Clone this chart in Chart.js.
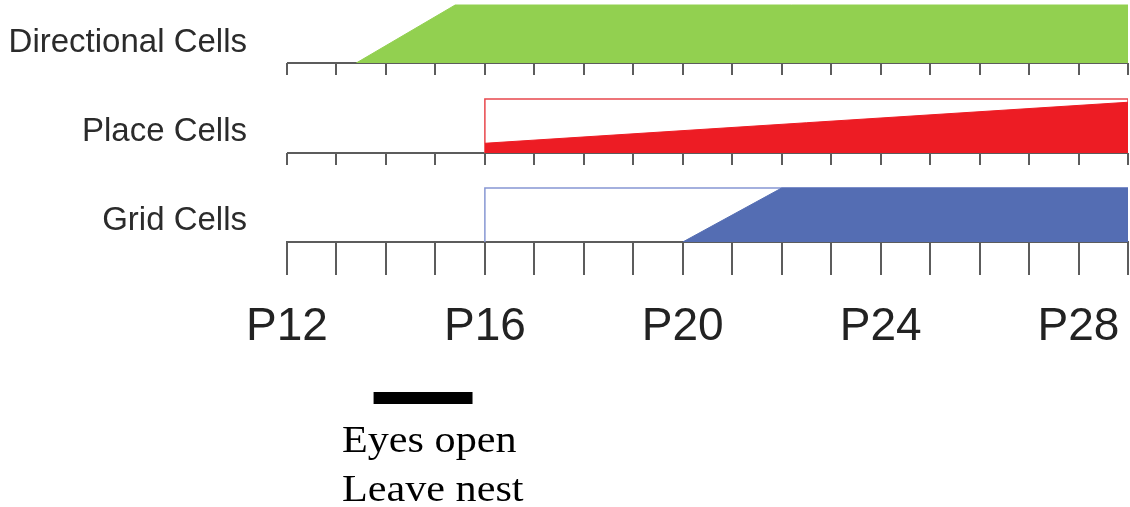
<!DOCTYPE html>
<html><head><meta charset="utf-8">
<script src="https://cdn.jsdelivr.net/npm/chart.js@4.4.1/dist/chart.umd.min.js"></script>
<style>html,body{margin:0;padding:0;background:#fff;} canvas{display:block;}</style>
</head><body>
<canvas id="c" width="1130" height="507"></canvas>
<script>
// ---- data ----
const dayMin = 12, dayMax = 29;
const tickDays = [12, 16, 20, 24, 28];
const tickLabels = ['P12', 'P16', 'P20', 'P24', 'P28'];
const rowNames = ['Directional Cells', 'Place Cells', 'Grid Cells'];
const directionalDays = [13.4, 15.4, 29];
const directionalLevel = [0, 1, 1];
const placeBoxDays = [16, 16, 29, 29];
const placeBoxLevel = [0, 1, 1, 0];
const placeDays = [16, 29];
const placeLevel = [0.18, 0.94];
const gridBoxDays = [16, 16, 29, 29];
const gridBoxLevel = [0, 1, 1, 0];
const gridDays = [20, 22, 29];
const gridLevel = [0, 1, 1];
const eyesOpenDays = [13.75, 15.75];
const eventLabels = ['Eyes open', 'Leave nest'];

const pts = (xs, ys) => xs.map((x, i) => ({x: x, y: ys[i]}));

Chart.defaults.font.family = '"Liberation Sans", Arial, sans-serif';

function rowAxis(name, weight, stackWeight, max, labelLevel) {
  return {
    type: 'linear', position: 'left', stack: 'rows', weight: weight, stackWeight: stackWeight,
    min: 0, max: max,
    grid: {display: false, drawTicks: false},
    border: {display: false},
    afterFit(s) { s.width = 287; s.paddingTop = 0; s.paddingBottom = 0; },
    afterBuildTicks(s) { s.ticks = [{value: labelLevel}]; },
    ticks: {padding: 40, color: '#2b2b2b', font: {size: 33}, callback: () => name}
  };
}

const rowTicks = {
  id: 'rowTicks',
  beforeDatasetsDraw(chart) {
    const ctx = chart.ctx, x = chart.scales.x;
    ctx.save();
    ctx.strokeStyle = '#5c5c5c';
    ctx.lineWidth = 2;
    ['yDir', 'yPlace'].forEach(id => {
      const y0 = Math.round(chart.scales[id].getPixelForValue(0));
      ctx.beginPath();
      ctx.moveTo(x.getPixelForValue(dayMin), y0);
      ctx.lineTo(x.getPixelForValue(dayMax), y0);
      ctx.stroke();
      for (let d = dayMin; d <= dayMax; d++) {
        const px = Math.round(x.getPixelForValue(d));
        ctx.beginPath();
        ctx.moveTo(px, y0);
        ctx.lineTo(px, y0 + 12);
        ctx.stroke();
      }
    });
    ctx.restore();
  },
  afterDraw(chart) {
    const ctx = chart.ctx, x = chart.scales.x;
    ctx.save();
    ctx.fillStyle = '#000';
    const x1 = x.getPixelForValue(eyesOpenDays[0]), x2 = x.getPixelForValue(eyesOpenDays[1]);
    ctx.fillRect(x1, 392, x2 - x1, 12);
    ctx.font = '38px "Liberation Serif", "Times New Roman", serif';
    ctx.textBaseline = 'alphabetic';
    ctx.textAlign = 'left';
    eventLabels.forEach((t, i) => {
      ctx.save();
      ctx.translate(342, 452 + i * 49);
      ctx.scale(1.11, 1);
      ctx.fillText(t, 0, 0);
      ctx.restore();
    });
    ctx.restore();
  }
};

const lineBase = {pointRadius: 0, tension: 0, borderWidth: 0};

new Chart(document.getElementById('c'), {
  type: 'line',
  data: {
    datasets: [
      Object.assign({}, lineBase, {data: pts(directionalDays, directionalLevel), yAxisID: 'yDir',
        backgroundColor: '#92d050', borderColor: '#92d050', borderWidth: 1, fill: 'origin', order: 1}),
      Object.assign({}, lineBase, {data: pts(placeBoxDays, placeBoxLevel), yAxisID: 'yPlace',
        borderColor: '#e8474c', borderWidth: 1.5, fill: false, order: 2}),
      Object.assign({}, lineBase, {data: pts(placeDays, placeLevel), yAxisID: 'yPlace',
        backgroundColor: '#ed1c24', borderColor: '#ed1c24', borderWidth: 1, fill: 'origin', order: 1}),
      Object.assign({}, lineBase, {data: pts(gridBoxDays, gridBoxLevel), yAxisID: 'yGrid',
        borderColor: '#8797d3', borderWidth: 1.5, fill: false, order: 2}),
      Object.assign({}, lineBase, {data: pts(gridDays, gridLevel), yAxisID: 'yGrid',
        backgroundColor: '#546db3', borderColor: '#546db3', borderWidth: 1, fill: 'origin', order: 1})
    ]
  },
  options: {
    responsive: false,
    animation: false,
    events: [],
    layout: {padding: {left: 0, right: 2, top: 0, bottom: 0}},
    plugins: {legend: {display: false}, tooltip: {enabled: false}},
    scales: {
      x: {
        type: 'linear', position: 'bottom', min: dayMin, max: dayMax,
        afterFit(s) { s.height = 265; s.paddingLeft = 0; s.paddingRight = 0; },
        grid: {drawOnChartArea: false, drawTicks: true, tickLength: 33, color: '#5c5c5c', lineWidth: 2},
        border: {display: true, color: '#5c5c5c', width: 2},
        ticks: {
          stepSize: 1, autoSkip: false, maxRotation: 0, padding: 25, color: '#222',
          font: {size: 46},
          callback(v) { const i = tickDays.indexOf(v); return i >= 0 ? tickLabels[i] : ''; }
        }
      },
      yDir: rowAxis(rowNames[0], 3, 63, 63 / 58, 0.35),
      yPlace: rowAxis(rowNames[1], 2, 90, 90 / 54, 0.39),
      yGrid: rowAxis(rowNames[2], 1, 89, 89 / 54, 0.39)
    }
  },
  plugins: [rowTicks]
});
</script>
</body></html>
